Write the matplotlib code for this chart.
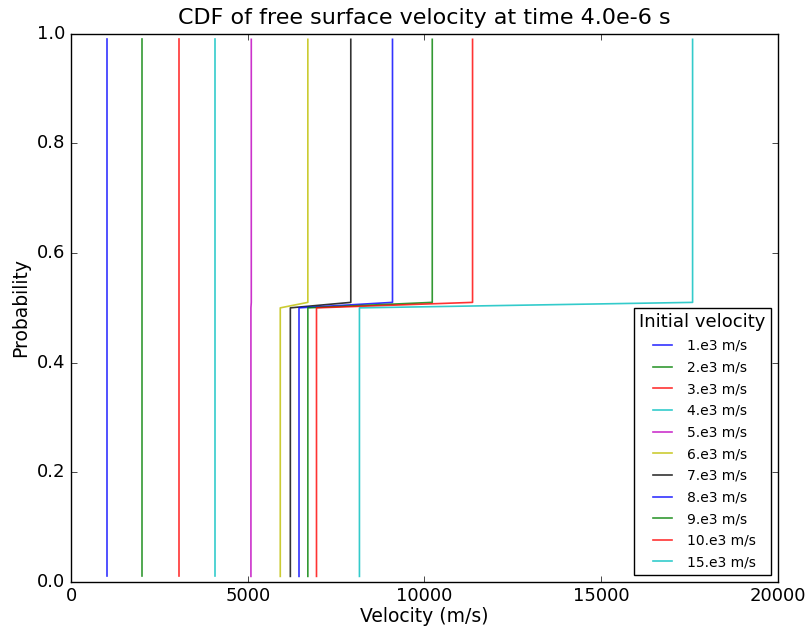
import matplotlib
matplotlib.use("Agg")
import matplotlib.pyplot as plt
import numpy as np

plt.style.use("classic")

LABELS = ["1.e3 m/s", "2.e3 m/s", "3.e3 m/s", "4.e3 m/s", "5.e3 m/s", "6.e3 m/s",
          "7.e3 m/s", "8.e3 m/s", "9.e3 m/s", "10.e3 m/s", "15.e3 m/s"]

# velocity of the lower half (cdf 0.01 -> 0.50) and upper half (0.51 -> 0.99)
V_LOW = [1025, 2020, 3045, 4065, 5090, 5920, 6205, 6450, 6700, 6945, 8160]
V_HIGH = [1025, 2020, 3045, 4065, 5100, 6700, 7915, 9095, 10220, 11360, 17585]
PROB = [0.01, 0.50, 0.51, 0.99]

COLORS = ["b", "g", "r", "c", "m", "y", "k", "b", "g", "r", "c"]

fig = plt.figure(figsize=(8.07, 6.27), dpi=100, facecolor="white")
ax = fig.add_axes([0.088, 0.072, 0.876, 0.874])

for label, lo, hi, c in zip(LABELS, V_LOW, V_HIGH, COLORS):
    ax.plot([lo, lo, hi, hi], PROB, color=c, label=label, alpha=0.8, lw=1.2)

ax.set_xlim(0, 20000)
ax.set_ylim(0, 1.0)
ax.set_xticks(np.arange(0, 20001, 5000))
ax.set_yticks(np.arange(0, 1.01, 0.2))
ax.tick_params(labelsize=13)
ax.set_xlabel("Velocity (m/s)", fontsize=13.5, labelpad=1)
ax.set_ylabel("Probability", fontsize=13.5)
ax.set_title("CDF of free surface velocity at time 4.0e-6 s", fontsize=16, y=1.005)

leg = ax.legend(loc="lower right", fontsize=10, title="Initial velocity",
                labelspacing=0.55, borderaxespad=0.5)
leg.get_title().set_fontsize(13)

fig.savefig("out.png", dpi=100, facecolor="white")
